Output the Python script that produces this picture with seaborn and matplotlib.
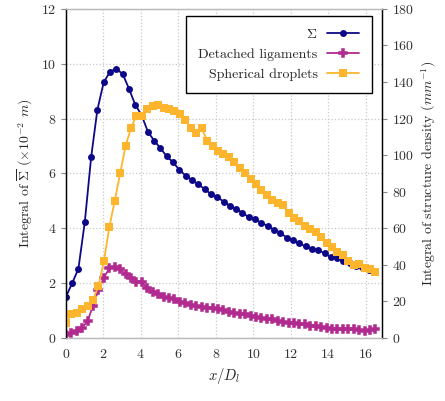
import matplotlib
matplotlib.use("Agg")
import matplotlib.pyplot as plt
import seaborn as sns
import pandas as pd

# x/D_l positions of the Sigma samples
x_sigma = [0.00, 0.34, 0.67, 1.01, 1.35, 1.68, 2.02, 2.36, 2.69, 3.03,
           3.37, 3.70, 4.04, 4.38, 4.71, 5.05, 5.39, 5.72, 6.06, 6.40,
           6.73, 7.07, 7.41, 7.74, 8.08, 8.42, 8.76, 9.09, 9.43, 9.77,
           10.10, 10.44, 10.78, 11.11, 11.45, 11.79, 12.12, 12.46, 12.80, 13.13,
           13.47, 13.81, 14.14, 14.48, 14.82, 15.15, 15.49, 15.83, 16.16, 16.50]
sigma = [1.5, 2.0, 2.53, 4.22, 6.59, 8.31, 9.32, 9.71, 9.81, 9.63,
         9.09, 8.51, 8.13, 7.52, 7.2, 6.92, 6.62, 6.41, 6.13, 5.92,
         5.76, 5.6, 5.43, 5.25, 5.15, 4.97, 4.83, 4.7, 4.57, 4.4,
         4.33, 4.2, 4.08, 3.95, 3.84, 3.66, 3.56, 3.45, 3.34, 3.26,
         3.21, 3.09, 2.95, 2.92, 2.82, 2.72, 2.63, 2.58, 2.48, 2.40]

# x/D_l positions of the ligament / droplet samples
x_struct = [0.00, 0.29, 0.58, 0.87, 1.16, 1.45, 1.74, 2.03, 2.32, 2.61,
            2.90, 3.19, 3.48, 3.77, 4.06, 4.35, 4.64, 4.93, 5.22, 5.51,
            5.80, 6.09, 6.38, 6.67, 6.96, 7.25, 7.54, 7.83, 8.12, 8.41,
            8.70, 8.99, 9.28, 9.57, 9.86, 10.15, 10.44, 10.73, 11.02, 11.31,
            11.60, 11.89, 12.18, 12.47, 12.76, 13.05, 13.34, 13.63, 13.92, 14.21,
            14.50, 14.79, 15.08, 15.37, 15.66, 15.95, 16.24, 16.53]
ligaments = [1.6, 2.9, 3.8, 5.6, 9.3, 17.7, 26.3, 33.0, 38.1, 38.7,
             37.7, 34.8, 33.0, 30.8, 30.5, 27.2, 25.3, 23.9, 22.6, 22.0,
             21.3, 19.9, 19.0, 18.0, 17.5, 17.1, 16.6, 16.2, 16.0, 15.4,
             14.4, 13.8, 13.0, 13.1, 12.2, 11.7, 11.1, 10.4, 10.2, 9.3,
             8.9, 8.4, 8.0, 7.7, 7.5, 6.7, 6.6, 5.9, 5.6, 4.9,
             4.8, 4.8, 4.8, 4.8, 4.4, 4.0, 4.4, 4.9]
droplets = [8.0, 13.1, 13.5, 16.0, 17.5, 20.9, 28.5, 42.0, 60.6, 75.0,
            90.0, 105.0, 115.0, 121.5, 121.6, 125.0, 127.0, 127.5, 126.0, 125.0,
            124.0, 122.5, 119.0, 115.0, 112.0, 114.7, 108.0, 105.0, 102.0, 100.7,
            99.2, 96.0, 93.0, 90.5, 87.0, 84.0, 81.0, 78.0, 75.5, 73.7,
            73.0, 68.3, 65.8, 64.0, 61.0, 59.5, 58.2, 55.0, 51.8, 50.0,
            47.2, 45.4, 42.3, 40.0, 40.3, 38.1, 38.0, 36.3]

df_sigma = pd.DataFrame({"x": x_sigma, "y": sigma})
df_struct = pd.DataFrame({"x": x_struct, "lig": ligaments, "drop": droplets})

sns.set_style("white")
plt.rcParams["font.family"] = ["cmr10", "DejaVu Serif"]
plt.rcParams["mathtext.fontset"] = "cm"
plt.rcParams["axes.formatter.use_mathtext"] = True
plt.rcParams["font.size"] = 10

c_sigma = "#0d0887"
c_lig = "#b12a90"
c_drop = "#fcb52c"

fig = plt.figure(figsize=(4.45, 4.01), dpi=100)
ax = fig.add_axes([0.148, 0.157, 0.71, 0.821])
ax2 = ax.twinx()

sns.lineplot(data=df_sigma, x="x", y="y", ax=ax, color=c_sigma, marker="o",
             markersize=5, markeredgewidth=0, linewidth=1.3, label=r"$\Sigma$", legend=False)
sns.lineplot(data=df_struct, x="x", y="lig", ax=ax2, color=c_lig, marker="P",
             markersize=5.5, markeredgewidth=1.1, markeredgecolor=c_lig, linewidth=1.3,
             label="Detached ligaments", legend=False)
sns.lineplot(data=df_struct, x="x", y="drop", ax=ax2, color=c_drop, marker="s",
             markersize=5.2, markeredgewidth=0, linewidth=1.3, label="Spherical droplets", legend=False)

ax.set_xlim(0, 16.87)
ax.set_ylim(0, 12)
ax2.set_ylim(0, 180)
ax.set_xticks(range(0, 17, 2))
ax.set_yticks(range(0, 13, 2))
ax2.set_yticks(range(0, 181, 20))

ax.grid(True, color="#c8c8c8", linestyle=":", linewidth=0.9)
ax.set_axisbelow(True)

ax.set_xlabel(r"$x/D_l$", fontsize=10.5)
ax.set_ylabel(r"Integral of $\overline{\Sigma}$ ($\times 10^{-2}$ $m$)", fontsize=10)
ax2.set_ylabel(r"Integral of structure density ($mm^{-1}$)", fontsize=10)

for a in (ax, ax2):
    a.tick_params(direction="out", length=3.5, width=0.8, color="#888888",
                  labelcolor="#333333", labelsize=10)
    a.spines["top"].set_color("#bbbbbb")
    a.spines["bottom"].set_color("#bbbbbb")
    a.spines["left"].set_color("black")
    a.spines["right"].set_color("black")
    for s in a.spines.values():
        s.set_linewidth(0.9)

h1, l1 = ax.get_legend_handles_labels()
h2, l2 = ax2.get_legend_handles_labels()
leg = ax2.legend(h1 + h2, l1 + l2, loc="upper right", bbox_to_anchor=(0.968, 0.979),
                 borderaxespad=0, markerfirst=False, fancybox=False, framealpha=1,
                 edgecolor="black", fontsize=10, handlelength=2.3, labelspacing=0.5,
                 borderpad=0.9, handletextpad=0.7)
leg.get_frame().set_linewidth(1.0)

fig.savefig("out.png", dpi=100)
